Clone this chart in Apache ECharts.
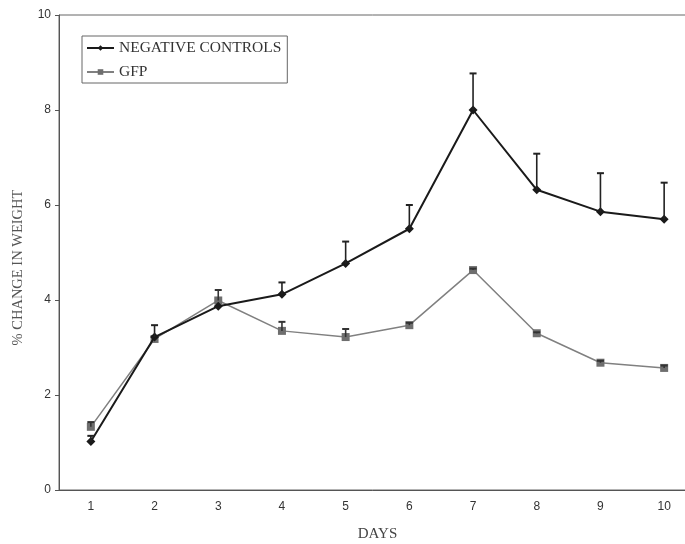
<!DOCTYPE html>
<html>
<head>
<meta charset="utf-8">
<script src="https://cdn.jsdelivr.net/npm/echarts@6/dist/echarts.min.js"></script>
<style>
  html, body { margin: 0; padding: 0; background: #fff; }
  #chart { width: 685px; height: 544px; }
</style>
</head>
<body>
<div id="chart"></div>
<script>
const days = ['1', '2', '3', '4', '5', '6', '7', '8', '9', '10']
const negControls = [1.02, 3.22, 3.87, 4.12, 4.77, 5.5, 8.0, 6.32, 5.86, 5.7]
const negError = [0.12, 0.25, 0.0, 0.25, 0.46, 0.5, 0.77, 0.76, 0.81, 0.77]
const gfp = [1.33, 3.18, 3.99, 3.35, 3.22, 3.47, 4.63, 3.3, 2.68, 2.57]
const gfpError = [0.1, 0.0, 0.22, 0.19, 0.17, 0.05, 0.03, 0.02, 0.04, 0.05]

const serif = '"Liberation Serif", "Times New Roman", serif'
const sans = '"Liberation Sans", Arial, sans-serif'

const errorBars = (values, errors, color) => ({
  type: 'custom',
  silent: true,
  z: 5,
  data: values.map((v, i) => [i, v, errors[i]]),
  renderItem: (params, api) => {
    if (api.value(2) <= 0) return null
    const base = api.coord([api.value(0), api.value(1)])
    const top = api.coord([api.value(0), api.value(1) + api.value(2)])
    return {
      type: 'group',
      children: [
        { type: 'line', shape: { x1: base[0], y1: base[1], x2: top[0], y2: top[1] }, style: { stroke: color, lineWidth: 1.6 } },
        { type: 'line', shape: { x1: top[0] - 3.5, y1: top[1], x2: top[0] + 3.5, y2: top[1] }, style: { stroke: color, lineWidth: 2 } },
      ],
    }
  },
})

const chart = echarts.init(document.getElementById('chart'))

chart.setOption({
  animation: false,
  backgroundColor: '#fff',
  grid: {
    left: 59,
    top: 15,
    width: 637,
    bottom: 54,
    outerBoundsMode: 'none',
    containLabel: false,
    show: true,
    borderColor: '#666',
    borderWidth: 1,
  },
  legend: {
    orient: 'vertical',
    left: 82,
    top: 36,
    padding: [4, 6, 3, 4],
    itemGap: 8,
    itemWidth: 27,
    itemHeight: 7,
    borderColor: '#666',
    borderWidth: 1,
    textStyle: { fontFamily: serif, fontSize: 15.5, lineHeight: 16, color: '#333' },
    data: ['NEGATIVE CONTROLS', 'GFP'],
  },
  xAxis: {
    type: 'category',
    data: days,
    name: 'DAYS',
    nameLocation: 'middle',
    nameGap: 37,
    nameTextStyle: { fontFamily: serif, fontSize: 15, color: '#444' },
    axisLine: { lineStyle: { color: '#555' } },
    axisTick: { length: 4, lineStyle: { color: '#555' } },
    axisLabel: { fontFamily: sans, fontSize: 12, color: '#333', margin: 11 },
  },
  yAxis: {
    type: 'value',
    min: 0,
    max: 10,
    interval: 2,
    name: '% CHANGE IN WEIGHT',
    nameLocation: 'middle',
    nameGap: 33,
    nameTextStyle: { fontFamily: serif, fontSize: 14.5, color: '#555', padding: [0, 30, 0, 0] },
    axisLine: { show: true, lineStyle: { color: '#555' } },
    axisTick: { show: true, length: 4, lineStyle: { color: '#555' } },
    axisLabel: { fontFamily: sans, fontSize: 12, color: '#333', margin: 8 },
    splitLine: { show: false },
  },
  series: [
    {
      name: 'NEGATIVE CONTROLS',
      type: 'line',
      data: negControls,
      symbol: 'diamond',
      symbolSize: 9,
      z: 4,
      lineStyle: { color: '#1a1a1a', width: 2 },
      itemStyle: { color: '#1a1a1a' },
    },
    {
      name: 'GFP',
      type: 'line',
      data: gfp,
      symbol: 'rect',
      symbolSize: 8,
      z: 3,
      lineStyle: { color: '#808080', width: 1.5 },
      itemStyle: { color: '#6e6e6e' },
    },
    errorBars(negControls, negError, '#222'),
    errorBars(gfp, gfpError, '#333'),
  ],
})
</script>
</body>
</html>
